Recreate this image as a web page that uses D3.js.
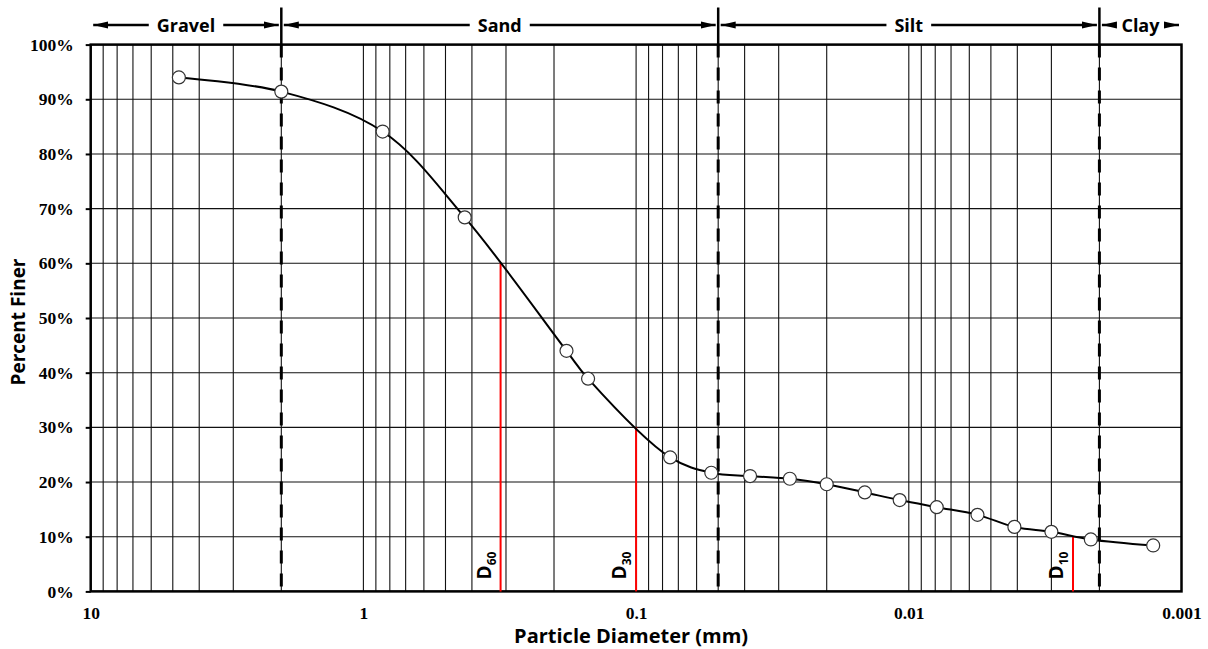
<!DOCTYPE html>
<html><head><meta charset="utf-8">
<script src="https://cdn.jsdelivr.net/npm/d3@7"></script>
<style>body{margin:0;background:#fff}</style>
</head><body><svg id="c" width="1208" height="649"></svg>
<script>
// ---- data ----
const diameters = [4.75, 2.0, 0.85, 0.425, 0.18, 0.15, 0.075, 0.053, 0.0382, 0.0273, 0.0200, 0.0145, 0.0108, 0.0079, 0.0056, 0.0041, 0.0030, 0.00215, 0.00127];
const percentFiner = [94.0, 91.4, 84.1, 68.4, 44.0, 38.9, 24.5, 21.7, 21.1, 20.6, 19.6, 18.1, 16.7, 15.4, 14.0, 11.8, 10.9, 9.5, 8.4];
const xTickValues = [10, 1, 0.1, 0.01, 0.001];
const xTickLabels = ["10", "1", "0.1", "0.01", "0.001"];
const yTickValues = [0, 10, 20, 30, 40, 50, 60, 70, 80, 90, 100];
const zoneBounds = [10, 2, 0.05, 0.002, 0.001];
const zoneNames = ["Gravel", "Sand", "Silt", "Clay"];
const dSubs = ["60", "30", "10"];
const dDiameters = [0.314, 0.1, 0.0025];
const dPercents = [60, 30, 10];

// ---- layout ----
const W = 1208, H = 649, m = {l: 90.7, r: 26.5, t: 44.6, b: 57.6};
const svg = d3.select("#c");
const x = d3.scaleLog().domain([10, 0.001]).range([m.l, W - m.r]);
const y = d3.scaleLinear().domain([0, 100]).range([H - m.b, m.t]);
const sans = "'Open Sans', Lato, sans-serif";
const serif = "'Liberation Serif', 'Times New Roman', serif";

// grid
svg.append("g").selectAll("line").data(x.ticks()).join("line")
  .attr("x1", d => x(d)).attr("x2", d => x(d))
  .attr("y1", y(0)).attr("y2", y(100))
  .attr("stroke", "#111").attr("stroke-width", 1.1);
svg.append("g").selectAll("line").data(yTickValues).join("line")
  .attr("x1", x(10)).attr("x2", x(0.001))
  .attr("y1", d => y(d)).attr("y2", d => y(d))
  .attr("stroke", "#111").attr("stroke-width", 1.1);

// boundary dashed lines
const inner = zoneBounds.slice(1, -1);
svg.append("g").selectAll("line").data(inner).join("line")
  .attr("x1", d => x(d)).attr("x2", d => x(d))
  .attr("y1", y(100)).attr("y2", y(0))
  .attr("stroke", "#000").attr("stroke-width", 3).attr("stroke-dasharray", "13,10");
svg.append("g").selectAll("line").data(inner).join("line")
  .attr("x1", d => x(d)).attr("x2", d => x(d))
  .attr("y1", 7.5).attr("y2", y(100))
  .attr("stroke", "#000").attr("stroke-width", 2.5);

// plot border
svg.append("rect").attr("x", x(10)).attr("y", y(100))
  .attr("width", x(0.001) - x(10)).attr("height", y(0) - y(100))
  .attr("fill", "none").attr("stroke", "#000").attr("stroke-width", 2.5);

// y axis
const ya = svg.append("g").attr("transform", `translate(${x(10)},0)`)
  .call(d3.axisLeft(y).tickValues(yTickValues).tickFormat(d => d + "%").tickSize(5).tickPadding(12));
ya.select(".domain").remove();
ya.selectAll("line").attr("stroke", "#000").attr("stroke-width", 2);
ya.selectAll("text").attr("font-family", serif).attr("font-weight", "bold").attr("font-size", 17.5).attr("fill", "#000");

// x axis labels
const xa = svg.append("g").attr("transform", `translate(0,${y(0)})`)
  .call(d3.axisBottom(x).tickValues(xTickValues).tickFormat((d, i) => xTickLabels[i]).tickSize(0).tickPadding(15.2));
xa.select(".domain").remove();
xa.selectAll("text").attr("font-family", serif).attr("font-weight", "bold").attr("font-size", 17.5).attr("fill", "#000");

// D lines
dDiameters.forEach((d, i) => {
  svg.append("line").attr("x1", x(d)).attr("x2", x(d))
    .attr("y1", y(0)).attr("y2", y(dPercents[i]))
    .attr("stroke", "#ff0000").attr("stroke-width", 2);
  const t = svg.append("text")
    .attr("transform", `translate(${x(d) - 10},${y(0) - 12}) rotate(-90)`)
    .attr("font-family", sans).attr("font-weight", "bold").attr("fill", "#000");
  t.append("tspan").attr("font-size", 19).text("D");
  t.append("tspan").attr("font-size", 12).attr("dy", 5).text(dSubs[i]);
});

// curve
const pts = diameters.map((d, i) => [x(d), y(percentFiner[i])]);
svg.append("path").attr("d", d3.line().curve(d3.curveCatmullRom.alpha(0.5))(pts))
  .attr("fill", "none").attr("stroke", "#000").attr("stroke-width", 2);
svg.append("g").selectAll("circle").data(pts).join("circle")
  .attr("cx", d => d[0]).attr("cy", d => d[1]).attr("r", 6.5)
  .attr("fill", "#fff").attr("stroke", "#333").attr("stroke-width", 1.2);

// axis titles
svg.append("text").attr("x", (x(10) + x(0.001)) / 2 - 5).attr("y", 642.5)
  .attr("text-anchor", "middle").attr("font-family", sans).attr("font-weight", "bold")
  .attr("font-size", 20).attr("fill", "#000").text("Particle Diameter (mm)");
svg.append("text").attr("transform", `translate(25,${(y(0) + y(100)) / 2 + 4}) rotate(-90)`)
  .attr("text-anchor", "middle").attr("font-family", sans).attr("font-weight", "bold")
  .attr("font-size", 19).attr("fill", "#000").text("Percent Finer");

// zone annotations
const defs = svg.append("defs");
defs.append("marker").attr("id", "ah").attr("viewBox", "0 0 15 8").attr("refX", 15).attr("refY", 4)
  .attr("markerWidth", 15).attr("markerHeight", 8).attr("markerUnits", "userSpaceOnUse")
  .attr("orient", "auto-start-reverse")
  .append("path").attr("d", "M0,0.5 L15,4 L0,7.5 Z").attr("fill", "#000");
const ay = 25;
zoneNames.forEach((name, i) => {
  const x0 = x(zoneBounds[i]) + 2.5, x1 = x(zoneBounds[i + 1]) - 2.5;
  const cx = (x0 + x1) / 2;
  const t = svg.append("text").attr("x", cx).attr("y", ay + 6.5).attr("text-anchor", "middle")
    .attr("font-family", sans).attr("font-weight", "bold").attr("font-size", 18).attr("fill", "#000").text(name);
  const w = t.node().getComputedTextLength();
  const pad = 8;
  svg.append("line").attr("x1", cx - w / 2 - pad).attr("x2", x0).attr("y1", ay).attr("y2", ay)
    .attr("stroke", "#000").attr("stroke-width", 2.5).attr("marker-end", "url(#ah)");
  svg.append("line").attr("x1", cx + w / 2 + pad).attr("x2", x1).attr("y1", ay).attr("y2", ay)
    .attr("stroke", "#000").attr("stroke-width", 2.5).attr("marker-end", "url(#ah)");
});
</script>
</body></html>
